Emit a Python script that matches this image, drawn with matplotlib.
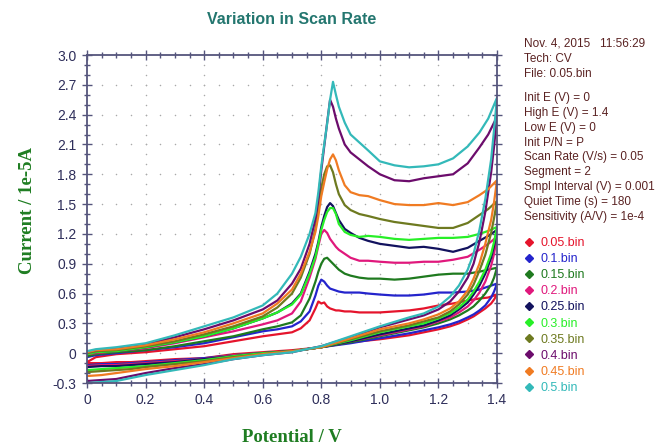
import matplotlib
matplotlib.use("Agg")
import matplotlib.pyplot as plt
from matplotlib.lines import Line2D
from matplotlib.ticker import FixedLocator, MultipleLocator, FuncFormatter
import numpy as np

plt.rcParams["axes.unicode_minus"] = False
plt.rcParams["font.family"] = ["Liberation Sans", "DejaVu Sans"]

# Potential grids (V): anodic sweep 0 -> 1.4 V, then return sweep 1.4 -> 0 V
e_forward = [0.00, 0.03, 0.10, 0.20, 0.30, 0.40, 0.50, 0.60, 0.65, 0.70, 0.73, 0.76,
             0.78, 0.79, 0.80, 0.81, 0.82, 0.83, 0.84, 0.85, 0.86, 0.88, 0.90, 0.93,
             0.96, 1.00, 1.05, 1.10, 1.15, 1.20, 1.25, 1.30, 1.34, 1.37, 1.40]
e_reverse = [1.40, 1.39, 1.38, 1.36, 1.34, 1.32, 1.30, 1.27, 1.24, 1.20, 1.15, 1.10,
             1.00, 0.90, 0.80, 0.70, 0.60, 0.50, 0.40, 0.30, 0.20, 0.15, 0.10, 0.05, 0.00]

# Current (1e-5 A) for each scan-rate file
i_fwd_005 = [-0.09, -0.04, -0.01, 0.01, 0.04, 0.07, 0.12, 0.17, 0.19, 0.21, 0.25, 0.33,
             0.45, 0.52, 0.50, 0.51, 0.47, 0.45, 0.44, 0.43, 0.43, 0.42, 0.42, 0.41,
             0.41, 0.41, 0.42, 0.43, 0.45, 0.48, 0.50, 0.53, 0.55, 0.56, 0.59]
i_rev_005 = [0.59, 0.54, 0.50, 0.45, 0.41, 0.37, 0.34, 0.30, 0.27, 0.24, 0.21, 0.18,
             0.14, 0.11, 0.06, 0.03, 0.01, -0.01, -0.05, -0.06, -0.08, -0.09, -0.09, -0.10, -0.10]

i_fwd_010 = [-0.04, -0.02, 0.00, 0.03, 0.06, 0.10, 0.16, 0.22, 0.24, 0.27, 0.32, 0.42,
             0.58, 0.68, 0.74, 0.72, 0.68, 0.65, 0.64, 0.63, 0.62, 0.61, 0.61, 0.61,
             0.60, 0.59, 0.58, 0.58, 0.59, 0.61, 0.61, 0.62, 0.64, 0.67, 0.70]
i_rev_010 = [0.70, 0.62, 0.56, 0.48, 0.43, 0.39, 0.36, 0.32, 0.29, 0.26, 0.23, 0.20,
             0.15, 0.10, 0.06, 0.02, 0.00, -0.02, -0.05, -0.07, -0.09, -0.10, -0.11, -0.11, -0.12]

i_fwd_015 = [-0.03, -0.01, 0.01, 0.03, 0.07, 0.12, 0.17, 0.24, 0.27, 0.31, 0.38, 0.55,
             0.72, 0.82, 0.90, 0.95, 0.96, 0.93, 0.90, 0.87, 0.84, 0.80, 0.78, 0.76,
             0.75, 0.75, 0.74, 0.75, 0.77, 0.79, 0.80, 0.80, 0.82, 0.84, 0.86]
i_rev_015 = [0.86, 0.76, 0.69, 0.60, 0.53, 0.47, 0.43, 0.38, 0.34, 0.30, 0.26, 0.23,
             0.17, 0.11, 0.06, 0.02, 0.00, -0.02, -0.06, -0.08, -0.10, -0.11, -0.12, -0.12, -0.13]

i_fwd_020 = [-0.01, 0.00, 0.02, 0.05, 0.10, 0.16, 0.22, 0.29, 0.33, 0.40, 0.52, 0.76,
             0.95, 1.08, 1.20, 1.24, 1.21, 1.15, 1.11, 1.07, 1.04, 1.00, 0.96, 0.93,
             0.93, 0.92, 0.91, 0.91, 0.92, 0.92, 0.94, 0.97, 1.04, 1.10, 1.17]
i_rev_020 = [1.17, 1.00, 0.88, 0.72, 0.61, 0.53, 0.47, 0.41, 0.36, 0.32, 0.27, 0.24,
             0.18, 0.12, 0.06, 0.02, 0.00, -0.02, -0.06, -0.08, -0.10, -0.11, -0.12, -0.12, -0.13]

i_fwd_025 = [0.00, 0.01, 0.02, 0.06, 0.11, 0.17, 0.25, 0.35, 0.41, 0.50, 0.60, 0.82,
             1.00, 1.12, 1.27, 1.38, 1.47, 1.51, 1.48, 1.41, 1.34, 1.25, 1.21, 1.16,
             1.13, 1.10, 1.08, 1.06, 1.07, 1.05, 1.02, 1.06, 1.13, 1.18, 1.24]
i_rev_025 = [1.24, 1.08, 0.96, 0.80, 0.68, 0.59, 0.51, 0.44, 0.38, 0.33, 0.28, 0.25,
             0.19, 0.12, 0.06, 0.02, 0.00, -0.03, -0.06, -0.09, -0.11, -0.12, -0.13, -0.13, -0.14]

i_fwd_030 = [-0.01, 0.01, 0.02, 0.06, 0.11, 0.17, 0.25, 0.35, 0.41, 0.49, 0.59, 0.80,
             0.97, 1.10, 1.24, 1.34, 1.42, 1.46, 1.46, 1.40, 1.30, 1.22, 1.19, 1.17,
             1.18, 1.17, 1.15, 1.14, 1.15, 1.16, 1.16, 1.17, 1.20, 1.23, 1.27]
i_rev_030 = [1.27, 1.12, 1.00, 0.84, 0.72, 0.62, 0.54, 0.46, 0.40, 0.35, 0.30, 0.27,
             0.21, 0.13, 0.06, 0.02, 0.00, -0.03, -0.07, -0.10, -0.13, -0.14, -0.15, -0.16, -0.17]

i_fwd_035 = [0.00, 0.02, 0.03, 0.07, 0.12, 0.19, 0.27, 0.37, 0.46, 0.60, 0.76, 1.00,
             1.25, 1.45, 1.66, 1.80, 1.88, 1.89, 1.82, 1.70, 1.60, 1.49, 1.44, 1.40,
             1.38, 1.35, 1.32, 1.30, 1.28, 1.26, 1.26, 1.31, 1.39, 1.45, 1.53]
i_rev_035 = [1.53, 1.36, 1.21, 0.99, 0.83, 0.69, 0.59, 0.49, 0.42, 0.36, 0.32, 0.28,
             0.22, 0.14, 0.06, 0.02, -0.01, -0.04, -0.08, -0.11, -0.14, -0.16, -0.17, -0.18, -0.19]

i_fwd_040 = [0.01, 0.03, 0.05, 0.09, 0.16, 0.24, 0.33, 0.44, 0.53, 0.70, 0.85, 1.10,
             1.35, 1.55, 1.84, 2.08, 2.32, 2.55, 2.48, 2.36, 2.26, 2.10, 2.02, 1.95,
             1.88, 1.80, 1.74, 1.73, 1.76, 1.78, 1.80, 1.91, 2.07, 2.20, 2.38]
i_rev_040 = [2.38, 2.08, 1.82, 1.42, 1.12, 0.90, 0.76, 0.62, 0.52, 0.44, 0.38, 0.34,
             0.26, 0.16, 0.07, 0.01, -0.02, -0.06, -0.11, -0.15, -0.20, -0.23, -0.26, -0.27, -0.28]

i_fwd_045 = [0.01, 0.03, 0.04, 0.08, 0.14, 0.21, 0.30, 0.40, 0.50, 0.64, 0.80, 1.02,
             1.22, 1.38, 1.58, 1.72, 1.85, 1.95, 2.00, 1.94, 1.84, 1.69, 1.62, 1.59,
             1.58, 1.54, 1.50, 1.49, 1.49, 1.51, 1.49, 1.52, 1.59, 1.65, 1.74]
i_rev_045 = [1.74, 1.52, 1.34, 1.10, 0.90, 0.75, 0.63, 0.52, 0.45, 0.39, 0.34, 0.30,
             0.24, 0.15, 0.06, 0.02, -0.01, -0.05, -0.09, -0.13, -0.16, -0.18, -0.20, -0.22, -0.23]

i_fwd_050 = [0.02, 0.04, 0.06, 0.10, 0.18, 0.27, 0.36, 0.48, 0.60, 0.80, 0.97, 1.20,
             1.41, 1.62, 1.88, 2.10, 2.31, 2.55, 2.73, 2.60, 2.48, 2.32, 2.20, 2.12,
             2.04, 1.93, 1.89, 1.87, 1.88, 1.90, 1.96, 2.08, 2.22, 2.36, 2.57]
i_rev_050 = [2.57, 2.25, 1.95, 1.55, 1.24, 1.00, 0.84, 0.68, 0.57, 0.47, 0.40, 0.36,
             0.27, 0.17, 0.07, 0.01, -0.02, -0.06, -0.12, -0.17, -0.22, -0.25, -0.28, -0.29, -0.30]

file_labels = ["0.05.bin", "0.1.bin", "0.15.bin", "0.2.bin", "0.25.bin",
               "0.3.bin", "0.35.bin", "0.4.bin", "0.45.bin", "0.5.bin"]
file_colors = ["#e5142c", "#2424cc", "#1f7a1f", "#e0187c", "#12125e",
               "#27ef27", "#6e7a20", "#6c0c6c", "#f07b22", "#33b9b9"]
forward_sets = [i_fwd_005, i_fwd_010, i_fwd_015, i_fwd_020, i_fwd_025,
                i_fwd_030, i_fwd_035, i_fwd_040, i_fwd_045, i_fwd_050]
reverse_sets = [i_rev_005, i_rev_010, i_rev_015, i_rev_020, i_rev_025,
                i_rev_030, i_rev_035, i_rev_040, i_rev_045, i_rev_050]

x_major = [0, 0.2, 0.4, 0.6, 0.8, 1.0, 1.2, 1.4]
y_major = [-0.3, 0, 0.3, 0.6, 0.9, 1.2, 1.5, 1.8, 2.1, 2.4, 2.7, 3.0]

info_lines = ["Nov. 4, 2015   11:56:29", "Tech: CV", "File: 0.05.bin",
              "Init E (V) = 0", "High E (V) = 1.4", "Low E (V) = 0", "Init P/N = P",
              "Scan Rate (V/s) = 0.05", "Segment = 2", "Smpl Interval (V) = 0.001",
              "Quiet Time (s) = 180", "Sensitivity (A/V) = 1e-4"]

axis_col = "#55557c"
tick_text_col = "#2e2e5a"
label_green = "#1f7d22"
serif = ["Liberation Serif", "DejaVu Serif"]

fig = plt.figure(figsize=(6.58, 4.48), dpi=100)
ax = fig.add_axes([87 / 658, 1 - 383 / 448, 410 / 658, 328 / 448])

# dotted background grid: dots along major lines at minor spacing
for xm in x_major[1:-1]:
    ys = np.arange(-0.2, 3.0, 0.1)
    ax.scatter(np.full_like(ys, xm), ys, s=1.2, color="#a9a9a9", lw=0, zorder=0)
for ym in y_major[1:-1]:
    xs = np.arange(0.05, 1.4, 0.05)
    ax.scatter(xs, np.full_like(xs, ym), s=1.2, color="#a9a9a9", lw=0, zorder=0)

for fwd, rev, col in zip(forward_sets, reverse_sets, file_colors):
    e = list(e_forward) + list(e_reverse[1:])
    cur = list(fwd) + list(rev[1:])
    ax.plot(e, cur, color=col, lw=1.6, solid_joinstyle="round", zorder=2)

ax.set_xlim(0, 1.4)
ax.set_ylim(-0.3, 3.0)
ax.xaxis.set_major_locator(FixedLocator(x_major))
ax.yaxis.set_major_locator(FixedLocator(y_major))
ax.xaxis.set_minor_locator(MultipleLocator(0.05))
ax.yaxis.set_minor_locator(MultipleLocator(0.1))
fmt = FuncFormatter(lambda v, p: "0" if abs(v) < 1e-9 else f"{v:.1f}")
ax.xaxis.set_major_formatter(fmt)
ax.yaxis.set_major_formatter(fmt)

for sp in ax.spines.values():
    sp.set_color(axis_col)
    sp.set_linewidth(1.3)
ax.tick_params(which="both", top=True, right=True, color=axis_col, width=1.0)
ax.tick_params(which="major", direction="inout", length=7, labelsize=10,
               labelcolor=tick_text_col, pad=4)
ax.tick_params(which="minor", direction="inout", length=4)

fig.text(292 / 658, 1 - 20 / 448, "Variation in Scan Rate", ha="center", va="center",
         fontsize=11.5, fontweight="bold", color="#23766f")
fig.text(28 / 658, 1 - 210 / 448, "Current / 1e-5A", rotation=90, ha="center",
         va="center", fontsize=13.5, fontweight="bold", color=label_green, family=serif)
fig.text(292 / 658, 1 - 437 / 448, "Potential / V", ha="center", va="center",
         fontsize=13.5, fontweight="bold", color=label_green, family=serif)

# instrument parameter block
y_px = 44
for k, line in enumerate(info_lines):
    fig.text(524 / 658, 1 - y_px / 448, line, ha="left", va="center",
             fontsize=8.5, color="#5a2222")
    y_px += 24.5 if k == 2 else 14.8

handles = [Line2D([], [], ls="none", marker="D", markersize=4, color=c) for c in file_colors]
fig.legend(handles, file_labels, loc="upper left", bbox_to_anchor=(524 / 658, 1 - 237 / 448),
           frameon=False, fontsize=9, labelcolor=file_colors, handlelength=0.8,
           handletextpad=0.5, labelspacing=0.33, borderpad=0, borderaxespad=0)

fig.savefig("out.png", dpi=100)
